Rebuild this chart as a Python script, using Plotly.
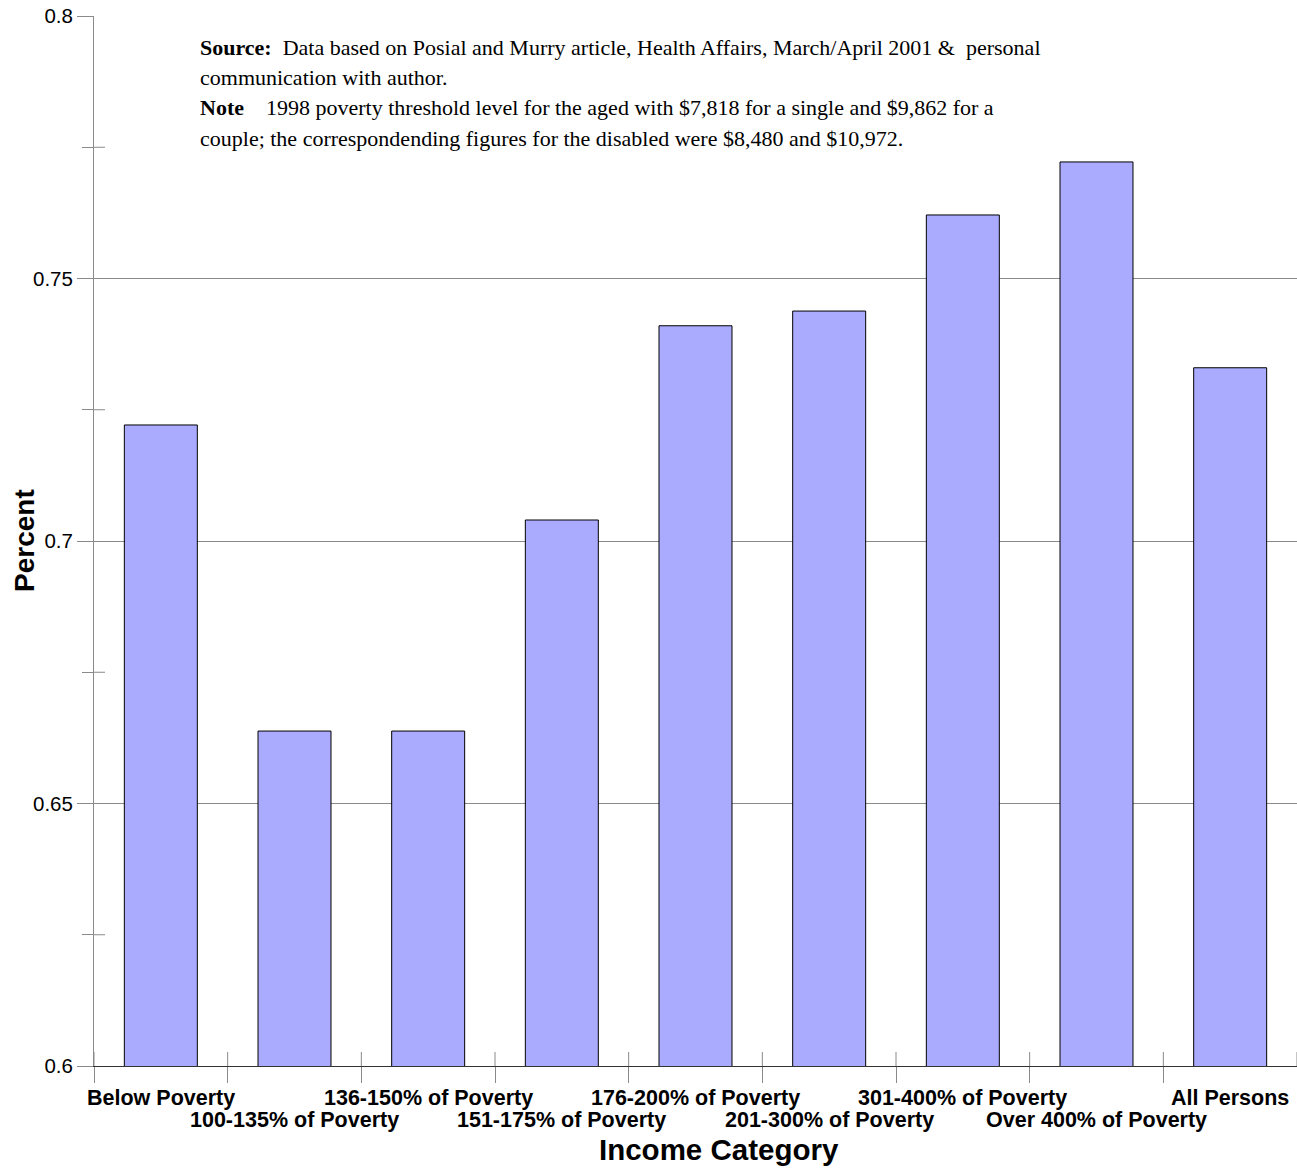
import plotly.graph_objects as go

categories = ["Below Poverty", "100-135% of Poverty", "136-150% of Poverty",
              "151-175% of Poverty", "176-200% of Poverty", "201-300% of Poverty",
              "301-400% of Poverty", "Over 400% of Poverty", "All Persons"]
values = [0.7221, 0.6638, 0.6638, 0.7040, 0.7410, 0.7438, 0.7621, 0.7722, 0.7330]
y_ticks = [0.6, 0.65, 0.7, 0.75, 0.8]
y_ticktext = ["0.6", "0.65", "0.7", "0.75", "0.8"]
y_minor = [0.625, 0.675, 0.725, 0.775]
note_lines = [
    "<b>Source:</b>\u00a0\u00a0Data based on Posial and Murry article, Health Affairs, March/April 2001 &\u00a0\u00a0personal",
    "communication with author.",
    "<b>Note</b>\u00a0\u00a0\u00a0 1998 poverty threshold level for the aged with $7,818 for a single and $9,862 for a",
    "couple; the correspondending figures for the disabled were $8,480 and $10,972.",
]

W, H = 1297, 1170
ml, mr, mt, mb = 94, 0, 16, 104
pw, ph = W - ml - mr, H - mt - mb

def py(ypix):
    return (mt + ph - ypix) / ph

def px(xpix):
    return (xpix - ml) / pw

xs = list(range(len(categories)))
boundaries = [i - 0.5 for i in range(len(categories) + 1)]

fig = go.Figure()
fig.add_trace(go.Bar(
    x=xs, y=values,
    marker=dict(color="#AAAAFF", line=dict(color="#000000", width=1)),
    showlegend=False,
))

grey = "#8a8a8a"
fig.update_layout(
    width=W, height=H,
    margin=dict(l=ml, r=mr, t=mt, b=mb, autoexpand=False),
    paper_bgcolor="white", plot_bgcolor="white",
    bargap=0.454,
    font=dict(family="Liberation Sans, Arial, sans-serif", color="black"),
    xaxis=dict(
        range=[-0.5, len(categories) - 0.5],
        showticklabels=False, ticks="", showgrid=False, zeroline=False,
        showline=True, linecolor="#333333", linewidth=1, automargin=False,
        minor=dict(tickvals=boundaries, ticks="outside", ticklen=16,
                   tickcolor=grey, tickwidth=1, showgrid=False),
    ),
    yaxis=dict(
        range=[0.6, 0.8], automargin=False,
        tickvals=y_ticks, ticktext=y_ticktext,
        ticks="outside", ticklen=16, tickcolor=grey, tickwidth=1,
        showgrid=True, gridcolor=grey, gridwidth=1,
        zeroline=False,
        showline=True, linecolor=grey, linewidth=1,
        tickfont=dict(size=20.5),
        minor=dict(tickvals=y_minor, ticks="outside", ticklen=11,
                   tickcolor=grey, tickwidth=1, showgrid=False),
    ),
)

shapes = []
for b in boundaries:
    shapes.append(dict(type="line", xref="x", yref="paper", x0=b, x1=b,
                       y0=0, y1=14 / ph, line=dict(color=grey, width=1)))
for yv in y_minor:
    shapes.append(dict(type="line", xref="paper", yref="y", x0=0, x1=11 / pw,
                       y0=yv, y1=yv, line=dict(color=grey, width=1)))
fig.update_layout(shapes=shapes)

annotations = []
# category labels, alternating between two rows
row_y = [1097.5, 1120]
for i, c in enumerate(categories):
    annotations.append(dict(
        text="<b>" + c + "</b>", xref="x", yref="paper",
        x=xs[i], y=py(row_y[i % 2]),
        xanchor="center", yanchor="middle", showarrow=False,
        font=dict(size=21.5, color="black"),
    ))

line_y = [47.5, 78, 108, 138]
for txt, ly in zip(note_lines, line_y):
    annotations.append(dict(
        text=txt, xref="paper", yref="paper",
        x=px(198), y=py(ly),
        xanchor="left", yanchor="middle", showarrow=False,
        font=dict(family="Liberation Serif, Times New Roman, serif", size=22, color="black"),
    ))
annotations.append(dict(
    text="<b>Income Category</b>", xref="paper", yref="paper",
    x=px(719), y=py(1149),
    xanchor="center", yanchor="middle", showarrow=False,
    font=dict(size=29.5, color="black"),
))
annotations.append(dict(
    text="<b>Percent</b>", xref="paper", yref="paper",
    x=px(24), y=0.5, textangle=-90,
    xanchor="center", yanchor="middle", showarrow=False,
    font=dict(size=28, color="black"),
))
fig.update_layout(annotations=annotations)

fig.write_html("out.html", config={"displayModeBar": False},
               post_script="document.body.style.margin='0px';")
